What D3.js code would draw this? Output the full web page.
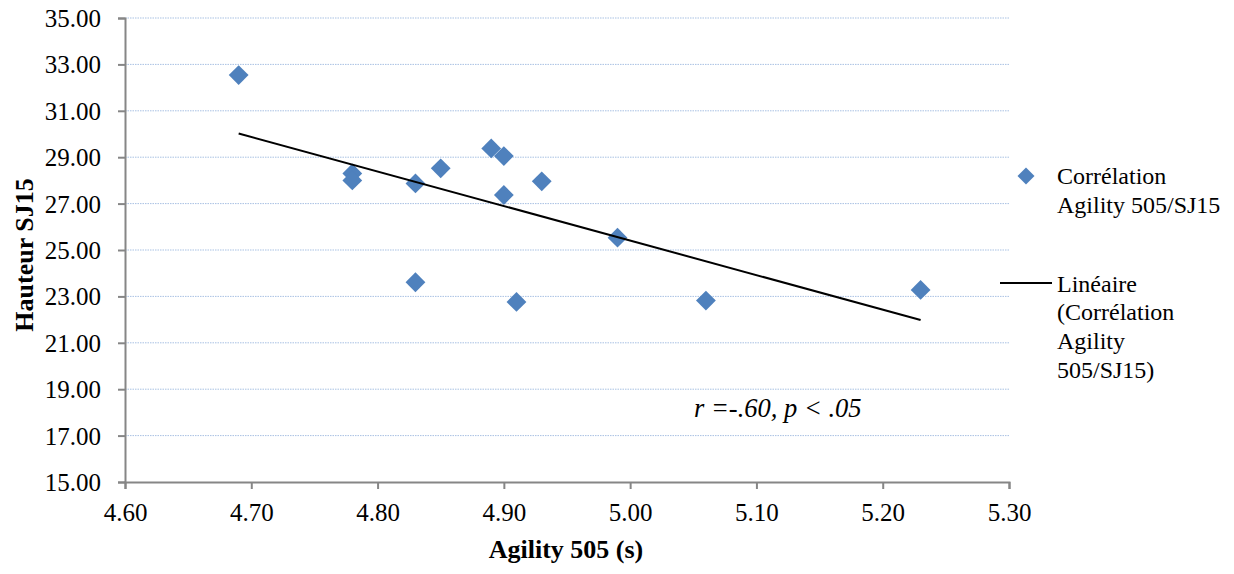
<!DOCTYPE html>
<html>
<head>
<meta charset="utf-8">
<script src="https://cdn.jsdelivr.net/npm/d3@7"></script>
<style>
  html, body { margin: 0; padding: 0; background: #fff; }
  svg { display: block; }
  text { font-family: "Liberation Serif", "Times New Roman", Times, Tinos, "DejaVu Serif", serif; fill: #000; }
</style>
</head>
<body>
<svg id="chart" width="1234" height="574"></svg>
<script>
// ---- data ----
const agility = [4.69, 4.78, 4.78, 4.83, 4.83, 4.85, 4.89, 4.90, 4.90, 4.91, 4.93, 4.99, 5.06, 5.23];
const hauteur = [32.54, 28.30, 28.00, 27.87, 23.61, 28.52, 29.38, 29.05, 27.37, 22.76, 27.96, 25.53, 22.82, 23.28];
const xTicks = [4.60, 4.70, 4.80, 4.90, 5.00, 5.10, 5.20, 5.30];
const yTicks = [15, 17, 19, 21, 23, 25, 27, 29, 31, 33, 35];
const xTitle = "Agility 505 (s)";
const yTitle = "Hauteur SJ15";
const annotation = "r =-.60, p < .05";
const legendSeries = ["Corrélation", "Agility 505/SJ15"];
const legendTrend = ["Linéaire", "(Corrélation", "Agility", "505/SJ15)"];

// ---- layout ----
const svg = d3.select("#chart");
const x = d3.scaleLinear().domain([4.6, 5.3]).range([125, 1009]);
const y = d3.scaleLinear().domain([15, 35]).range([482, 18]);
const axisColor = "#868686";
const markerColor = "#4F81BD";

// gridlines
svg.append("g").selectAll("line").data(yTicks.filter(d => d !== 15)).join("line")
  .attr("x1", x(4.6)).attr("x2", x(5.3))
  .attr("y1", d => y(d)).attr("y2", d => y(d))
  .attr("stroke", "#A9C1E3").attr("stroke-width", 1).attr("stroke-dasharray", "1.5,1");

// axes
const yAxis = d3.axisLeft(y).tickValues(yTicks).tickSize(7).tickFormat(d => d.toFixed(2)).tickPadding(17);
const gy = svg.append("g").attr("transform", `translate(${x(4.6)},0)`).call(yAxis);
gy.attr("font-family", null);
gy.select(".domain").attr("stroke", axisColor).attr("stroke-width", 2);
gy.selectAll(".tick line").attr("stroke", axisColor).attr("stroke-width", 2);
gy.selectAll(".tick text").attr("font-size", 25).attr("fill", "#000").attr("dy", "0.34em");

const xAxis = d3.axisBottom(x).tickValues(xTicks).tickSize(7).tickFormat(d => d.toFixed(2)).tickPadding(14);
const gx = svg.append("g").attr("transform", `translate(0,${y(15)})`).call(xAxis);
gx.attr("font-family", null);
gx.select(".domain").attr("stroke", axisColor).attr("stroke-width", 2);
gx.selectAll(".tick line").attr("stroke", axisColor).attr("stroke-width", 2);
gx.selectAll(".tick text").attr("font-size", 25).attr("fill", "#000");

// trend line (least squares from the data)
const n = agility.length;
const mx = d3.mean(agility), my = d3.mean(hauteur);
let sxy = 0, sxx = 0;
for (let i = 0; i < n; i++) { sxy += (agility[i] - mx) * (hauteur[i] - my); sxx += (agility[i] - mx) ** 2; }
const slope = sxy / sxx, intercept = my - slope * mx;
const [x0, x1] = d3.extent(agility);

// markers
svg.append("g").selectAll("rect").data(agility.map((d, i) => [d, hauteur[i]])).join("rect")
  .attr("x", -7).attr("y", -7).attr("width", 14).attr("height", 14)
  .attr("transform", d => `translate(${x(d[0])},${y(d[1])}) rotate(45)`)
  .attr("fill", markerColor);

svg.append("line")
  .attr("x1", x(x0)).attr("y1", y(intercept + slope * x0))
  .attr("x2", x(x1)).attr("y2", y(intercept + slope * x1))
  .attr("stroke", "#000").attr("stroke-width", 2);

// annotation
svg.append("text").attr("x", 694).attr("y", 417).attr("font-size", 26.5).attr("font-style", "italic")
  .text(annotation);

// axis titles
svg.append("text").attr("x", 566).attr("y", 558).attr("text-anchor", "middle")
  .attr("font-size", 26).attr("font-weight", "bold").text(xTitle);
svg.append("text").attr("transform", "translate(33,255) rotate(-90)").attr("text-anchor", "middle")
  .attr("font-size", 26).attr("font-weight", "bold").text(yTitle);

// legend
const lg = svg.append("g");
lg.append("rect").attr("x", -6).attr("y", -6).attr("width", 12).attr("height", 12)
  .attr("transform", "translate(1026,176) rotate(45)").attr("fill", markerColor);
lg.append("g").selectAll("text").data(legendSeries).join("text")
  .attr("x", 1057).attr("y", (d, i) => 183.5 + i * 29).attr("font-size", 24).text(d => d);
lg.append("line").attr("x1", 1000).attr("x2", 1052).attr("y1", 283).attr("y2", 283)
  .attr("stroke", "#000").attr("stroke-width", 2);
lg.append("g").selectAll("text").data(legendTrend).join("text")
  .attr("x", 1057).attr("y", (d, i) => 291.5 + i * 28.8).attr("font-size", 24).text(d => d);
</script>
</body>
</html>
